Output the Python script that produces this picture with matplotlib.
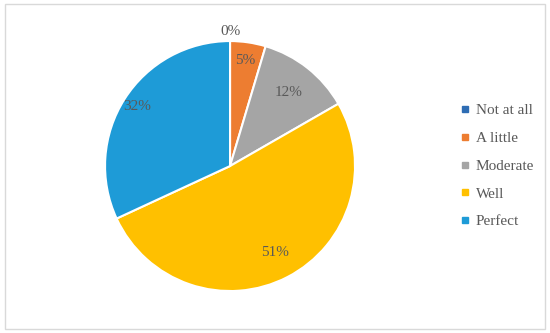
import numpy as np
import matplotlib
matplotlib.use("Agg")
import matplotlib.pyplot as plt
from matplotlib.lines import Line2D
from matplotlib.patches import Rectangle

# data
categories = ["Not at all", "A little", "Moderate", "Well", "Perfect"]
values = [0, 4.6, 12.1, 51.4, 31.9]
colors = ["#2E6DB4", "#ED7D31", "#A5A5A5", "#FFC000", "#1E9BD7"]
label_dist = [1.08, 0.85, 0.75, 0.78, 0.88]

plt.rcParams['font.family'] = ['Liberation Serif', 'DejaVu Serif']
txt_color = "#595959"

fig = plt.figure(figsize=(5.5, 3.33), dpi=100)
ax = fig.add_axes([0.191, 0.126, 0.4545, 0.7508])

wedges, texts, autotexts = ax.pie(values, colors=colors, startangle=90, counterclock=False,
                                  autopct='%.0f%%', pctdistance=0.8,
                                  wedgeprops=dict(edgecolor='white', linewidth=1.5),
                                  textprops=dict(color=txt_color, fontsize=11))
ax.set_xlim(-1, 1)
ax.set_ylim(-1, 1)
ax.set_aspect('equal')

# move labels like Excel's best fit
for w, t, d in zip(wedges, autotexts, label_dist):
    ang = np.deg2rad((w.theta1 + w.theta2) / 2)
    t.set_position((d * np.cos(ang), d * np.sin(ang)))

handles = [Line2D([], [], marker='s', linestyle='', markersize=4.5, color=c) for c in colors]
fig.legend(handles, categories, loc='center left', bbox_to_anchor=(0.812, 0.5015),
           frameon=False, fontsize=11, labelcolor=txt_color, labelspacing=0.92,
           handlelength=0.6, handletextpad=0.4)

fig.patches.append(Rectangle((5 / 550, 4 / 333), 540 / 550, 325 / 333, transform=fig.transFigure,
                             fill=False, edgecolor='#D9D9D9', linewidth=1))

fig.savefig("out.png", dpi=100)
